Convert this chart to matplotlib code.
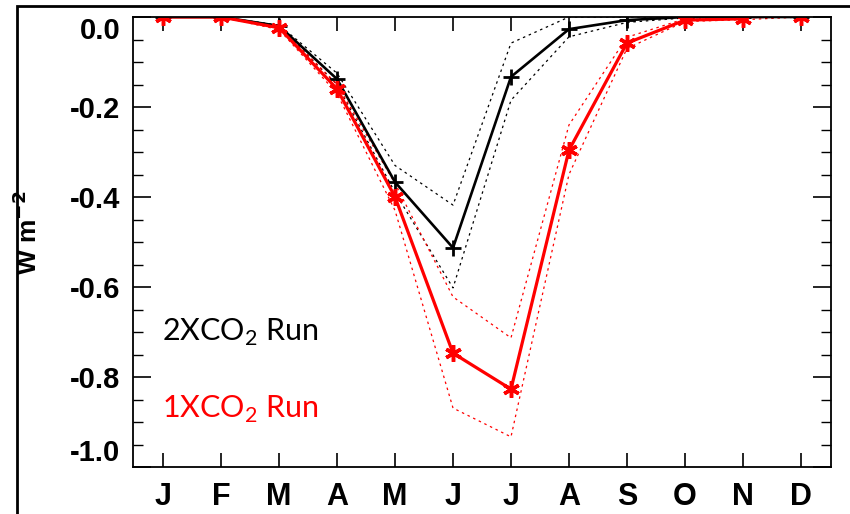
import numpy as np
import matplotlib
matplotlib.use("Agg")
import matplotlib.pyplot as plt
from matplotlib.patches import Rectangle

months = np.arange(1, 13)
month_labels = ['J', 'F', 'M', 'A', 'M', 'J', 'J', 'A', 'S', 'O', 'N', 'D']

# 2XCO2 run (black)
run2x = [0.0, 0.0, -0.02, -0.138, -0.367, -0.513, -0.133, -0.027, -0.007, 0.0, 0.0, 0.0]
run2x_hi = [0.0, 0.0, -0.018, -0.125, -0.33, -0.418, -0.058, 0.0, 0.0, 0.0, 0.0, 0.0]
run2x_lo = [0.0, 0.0, -0.022, -0.15, -0.39, -0.602, -0.185, -0.044, -0.012, -0.002, 0.0, 0.0]

# 1XCO2 run (red)
run1x = [0.0, 0.0, -0.024, -0.16, -0.40, -0.747, -0.827, -0.296, -0.058, -0.007, -0.004, 0.0]
run1x_hi = [0.0, 0.0, -0.02, -0.15, -0.37, -0.622, -0.713, -0.24, -0.045, -0.004, -0.002, 0.0]
run1x_lo = [0.0, 0.0, -0.028, -0.17, -0.43, -0.869, -0.933, -0.35, -0.07, -0.01, -0.006, 0.0]

fig = plt.figure(figsize=(8.5, 5.14), dpi=100)
ax = fig.add_axes([133/850, 1-467/514, (831-133)/850, (467-17)/514])

dot = (0, (2, 3))
ax.plot(months, run2x_hi, color='black', lw=0.9, ls=dot)
ax.plot(months, run2x_lo, color='black', lw=0.9, ls=dot)
ax.plot(months, run1x_hi, color='red', lw=0.9, ls=dot)
ax.plot(months, run1x_lo, color='red', lw=0.9, ls=dot)

ax.plot(months, run2x, color='black', lw=1.9, marker='+', ms=11, mew=2)
ax.plot(months[:11], run1x[:11], color='red', lw=2.3)
ax.plot(months, run1x, color='red', ls='none', marker=(6, 2, 0), ms=12, mew=2.5)

ax.set_xlim(0.48, 12.52)
ax.set_ylim(-1.0, 0.0)
ax.set_xticks(months)
ax.set_xticklabels(month_labels, fontsize=22, fontweight='bold', family='Liberation Sans')
yt = np.arange(0, -1.01, -0.2)
ax.set_yticks(yt)
ax.set_yticklabels(['%.1f' % v if v < -0.01 else '0.0' for v in yt],
                   fontsize=21, fontweight='bold', family='Liberation Sans')
ax.set_yticks(np.arange(0, -1.01, -0.05), minor=True)
ax.tick_params(axis='x', direction='in', length=10, width=1.2, top=True, pad=11)
ax.tick_params(axis='y', which='major', direction='in', length=13, width=1.2, right=True, pad=9)
ax.tick_params(axis='y', which='minor', direction='in', length=7, width=1.0, right=True)
labs = ax.get_yticklabels()
labs[0].set_va('top')
labs[-1].set_va('bottom')
for s in ax.spines.values():
    s.set_linewidth(1.3)

ax.set_ylabel(r'W m$^{\mathbf{-2}}$', fontsize=19, fontweight='bold', family='Liberation Sans')
ax.yaxis.set_label_coords(-0.13, 0.52)

fig.text(162/850, 1-341/514, r'2XCO$_\mathregular{2}$ Run', color='black', fontsize=22,
         family='Lato', va='baseline', ha='left')
fig.text(162/850, 1-418/514, r'1XCO$_\mathregular{2}$ Run', color='red', fontsize=22,
         family='Lato', va='baseline', ha='left')

frame = Rectangle((17/850, -0.1), 1.2, 1.1 - 6/514, transform=fig.transFigure,
                  fill=False, edgecolor='black', lw=2, clip_on=False)
fig.patches.append(frame)

fig.savefig('out.png', dpi=100)
